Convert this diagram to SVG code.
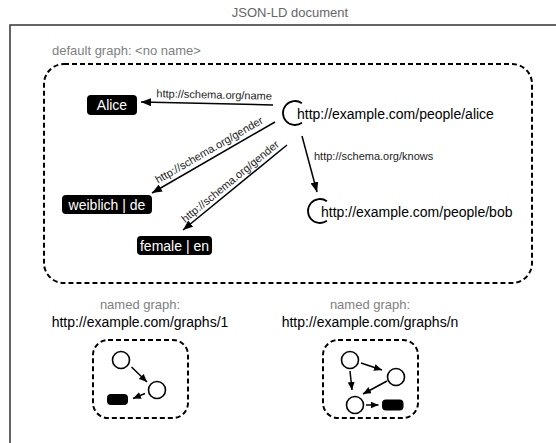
<svg xmlns="http://www.w3.org/2000/svg" width="556" height="443" viewBox="0 0 556 443">
<style>
text{font-family:"Liberation Sans",Arial,sans-serif}
.title{font-size:13px;fill:#666}
.gray{font-size:13px;fill:#808080}
.lbl{font-size:11px;fill:#222}
.uri{font-size:14px;fill:#000}
.lit rect{fill:#000}
.lit text{fill:#fff;font-size:14px}
.dash{fill:none;stroke:#000;stroke-width:2;stroke-dasharray:5 3}
.edge{stroke:#000;stroke-width:1.5;fill:none}
.arc{stroke:#000;stroke-width:1.8;fill:none}
.sc{fill:#fff;stroke:#000;stroke-width:1.6}
</style>
<defs>
<marker id="ah" markerUnits="userSpaceOnUse" markerWidth="10" markerHeight="8" refX="10" refY="4" orient="auto">
<path d="M0,0 L10,4 L0,8 z" fill="#000"/>
</marker>
<marker id="ahs" markerUnits="userSpaceOnUse" markerWidth="8" markerHeight="7" refX="8" refY="3.5" orient="auto">
<path d="M0,0 L8,3.5 L0,7 z" fill="#000"/>
</marker>
</defs>
<text class="title" x="290" y="17" text-anchor="middle">JSON-LD document</text>
<rect x="10" y="25" width="570" height="440" fill="none" stroke="#333" stroke-width="1.5"/>
<text class="gray" x="52" y="55">default graph: &lt;no name&gt;</text>
<rect class="dash" x="44" y="64" width="488" height="219" rx="20"/>
<g id="edges">
<line class="edge" x1="273" y1="105" x2="141" y2="102" marker-end="url(#ah)"/>
<line class="edge" x1="275" y1="122" x2="152" y2="193" marker-end="url(#ah)"/>
<line class="edge" x1="287" y1="145" x2="183" y2="230" marker-end="url(#ah)"/>
<line class="edge" x1="302" y1="136" x2="317" y2="192" marker-end="url(#ah)"/>
<text class="lbl" transform="translate(214,103.5) rotate(1.3)" y="-5" text-anchor="middle">http://schema.org/name</text>
<text class="lbl" transform="translate(213.5,157.5) rotate(-30)" y="-5" text-anchor="middle">http://schema.org/gender</text>
<text class="lbl" transform="translate(235,187.5) rotate(-39.3)" y="-4" text-anchor="middle">http://schema.org/gender</text>
<text class="lbl" x="314" y="160">http://schema.org/knows</text>
</g>
<g id="alice">
<path class="arc" d="M301.9,103.2 A12,12 0 1 0 301.9,122.8"/>
<text class="uri" x="297" y="119">http://example.com/people/alice</text>
</g>
<g id="bob">
<path class="arc" d="M326.9,201.2 A12,12 0 1 0 326.9,220.8"/>
<text class="uri" x="321" y="217">http://example.com/people/bob</text>
</g>
<g id="lit-alice" class="lit">
<rect x="87" y="95" width="50" height="20" rx="4"/>
<text x="112" y="110" text-anchor="middle">Alice</text>
</g>
<g id="lit-weiblich" class="lit">
<rect x="62" y="195" width="90" height="19" rx="4"/>
<text x="107" y="209.5" text-anchor="middle">weiblich | de</text>
</g>
<g id="lit-female" class="lit">
<rect x="137" y="236" width="75" height="19" rx="4"/>
<text x="174.5" y="250.5" text-anchor="middle">female | en</text>
</g>
<g id="graph1">
<text class="gray" x="140" y="309" text-anchor="middle">named graph:</text>
<text class="uri" x="140" y="327" text-anchor="middle">http://example.com/graphs/1</text>
<rect class="dash" x="93" y="340" width="95" height="78" rx="15"/>
<line class="edge" x1="131.5" y1="367" x2="147" y2="382" marker-end="url(#ahs)"/>
<line class="edge" x1="145" y1="393.5" x2="133" y2="398.5" marker-end="url(#ahs)"/>
<circle class="sc" cx="121" cy="360" r="8.5"/>
<circle class="sc" cx="157" cy="390" r="8.5"/>
<rect x="107" y="394" width="21" height="11" rx="4" fill="#000"/>
</g>
<g id="graphn">
<text class="gray" x="370" y="309" text-anchor="middle">named graph:</text>
<text class="uri" x="370" y="327" text-anchor="middle">http://example.com/graphs/n</text>
<rect class="dash" x="323" y="340" width="95" height="78" rx="15"/>
<line class="edge" x1="361" y1="363" x2="382" y2="370" marker-end="url(#ahs)"/>
<line class="edge" x1="350" y1="371" x2="352" y2="390" marker-end="url(#ahs)"/>
<line class="edge" x1="387" y1="381" x2="363" y2="394" marker-end="url(#ahs)"/>
<line class="edge" x1="366" y1="405" x2="378.5" y2="405" marker-end="url(#ahs)"/>
<circle class="sc" cx="350" cy="360" r="8.5"/>
<circle class="sc" cx="396" cy="377" r="8.5"/>
<circle class="sc" cx="355" cy="405" r="8.5"/>
<rect x="382" y="399.5" width="21.5" height="11" rx="4" fill="#000"/>
</g>
</svg>
